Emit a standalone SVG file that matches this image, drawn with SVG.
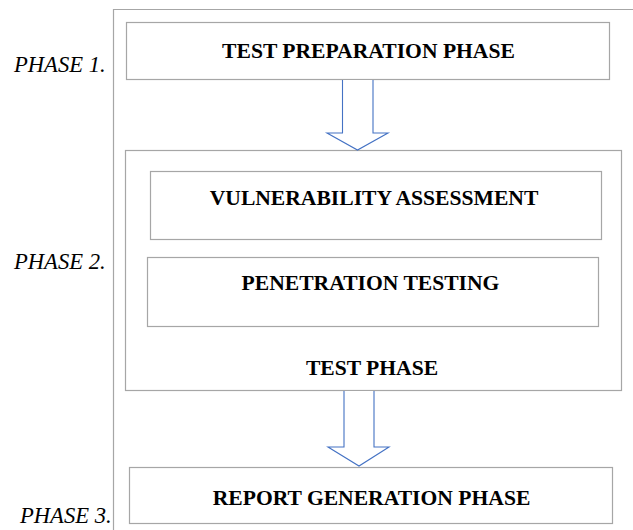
<svg xmlns="http://www.w3.org/2000/svg" width="633" height="530" viewBox="0 0 633 530">
<style>
.box{fill:#fff;stroke:#a6a6a6;stroke-width:1.2}
.frame{fill:none;stroke:#a6a6a6;stroke-width:1.2}
.t{font-family:"Liberation Serif","Times New Roman",serif;font-weight:bold;font-size:21.6px;fill:#000;text-anchor:middle}
.ph{font-family:"Liberation Serif","Times New Roman",serif;font-style:italic;font-size:22.6px;fill:#000}
.arr{fill:#fff;stroke:#4472c4;stroke-width:1.1}
</style>
<rect width="633" height="530" fill="#fff"/>
<path class="frame" d="M113.5,530 V9.5 H633"/>
<text class="ph" x="14" y="72">PHASE 1.</text>
<text class="ph" x="14" y="269">PHASE 2.</text>
<text class="ph" x="20" y="523">PHASE 3.</text>
<g id="prep">
<rect class="box" x="126.5" y="22.5" width="483" height="57"/>
<text class="t" x="368.5" y="58">TEST PREPARATION PHASE</text>
</g>
<g id="test">
<rect class="box" x="125.5" y="150.5" width="496" height="240"/>
<text class="t" x="372" y="375">TEST PHASE</text>
</g>
<g id="va">
<rect class="box" x="150.5" y="171.5" width="451" height="68"/>
<text class="t" x="374" y="205">VULNERABILITY ASSESSMENT</text>
</g>
<g id="pt">
<rect class="box" x="147.5" y="257.5" width="451" height="69"/>
<text class="t" x="370.5" y="290">PENETRATION TESTING</text>
</g>
<g id="report">
<rect class="box" x="129.5" y="467.5" width="483" height="56"/>
<text class="t" x="371.5" y="505">REPORT GENERATION PHASE</text>
</g>
<g id="connectors">
<path class="arr" d="M342.5,80 V133 H327 L357.5,150 L388,133 H373 V80"/>
<path class="arr" d="M344,391 V447 H328 L359,466 L389,447 H374 V391"/>
</g>
</svg>
